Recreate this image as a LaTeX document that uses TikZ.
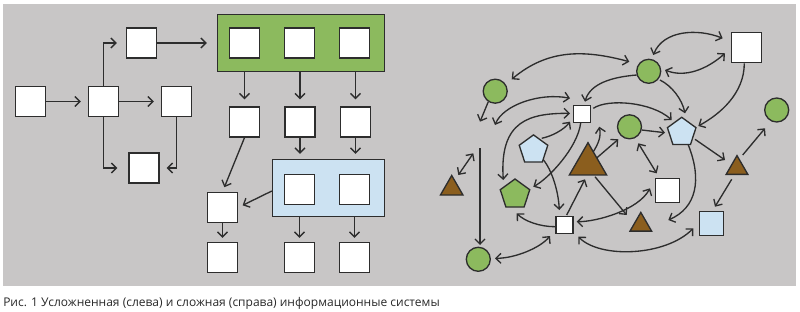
\documentclass[tikz,border=0pt]{standalone}
\usepackage{fontspec}
\setmainfont{Open Sans}
\usetikzlibrary{arrows.meta,shapes.geometric,calc}
\newdimen\pxu \pxu=0.75pt
\definecolor{bgc}{RGB}{200,198,198}
\definecolor{lc}{RGB}{45,45,45}
\definecolor{grn}{RGB}{140,186,94}
\definecolor{blu}{RGB}{204,226,242}
\definecolor{brn}{RGB}{139,94,30}
\definecolor{capc}{RGB}{40,40,40}
\begin{document}
\begin{tikzpicture}[x=0.75pt,y=-0.75pt,
  barb/.tip={Straight Barb[length=3.8pt,width=7.5pt]},
  arr/.style={draw=lc, line width=1pt, -barb},
  darr/.style={draw=lc, line width=1pt, barb-barb},
  box/.style={draw=lc, line width=1pt, fill=white, minimum size=30\pxu, inner sep=0pt},
  grp/.style={draw=lc, line width=1pt, inner sep=0pt},
  circ/.style={circle, draw=lc, line width=1pt, fill=grn, minimum size=24\pxu, inner sep=0pt},
  pent/.style={regular polygon, regular polygon sides=5, draw=lc, line width=1pt, inner sep=0pt},
  tri/.style={regular polygon, regular polygon sides=3, draw=lc, line width=1pt, fill=brn, inner sep=0pt},
  sqr/.style={draw=lc, line width=1pt, inner sep=0pt}]
\useasboundingbox (0,0) rectangle (800,311);
\fill[bgc] (3,4) rectangle (796,286);

% ---------- left diagram ----------
\node[box] (A) at (30.5,101.5) {};
\node[box] (B) at (103.5,101.5) {};
\node[box] (C) at (141.5,43) {};
\node[box] (D) at (176.5,101.5) {};
\node[box] (E) at (144,168) {};
\node[grp, fill=grn, minimum width=167\pxu, minimum height=57\pxu] (GR) at (301,43) {};
\node[box] (Ga) at (244.5,43) {};
\node[box] (Gb) at (299.5,43) {};
\node[box] (Gc) at (354.5,43) {};
\node[box] (Ra) at (244.5,122) {};
\node[box] (Rb) at (300,122) {};
\node[box] (Rc) at (355.5,122) {};
\node[grp, fill=blu, minimum width=112\pxu, minimum height=57\pxu] (BL) at (328.5,188) {};
\node[box] (Ba) at (299.5,189.5) {};
\node[box] (Bb) at (354.5,189.5) {};
\node[box] (F) at (222.5,207.5) {};
\node[box] (La) at (222.5,257.5) {};
\node[box] (Lb) at (299.5,257.5) {};
\node[box] (Lc) at (354.5,257.5) {};

\draw[arr, shorten >=7\pxu] (A) -- (B);
\draw[arr, shorten >=9\pxu] (B.north) |- (C.west);
\draw[arr, shorten >=7\pxu] (B) -- (D);
\draw[arr, shorten >=11\pxu] (B.south) |- (E.west);
\draw[arr, shorten >=7\pxu] (D.south) |- (E.east);
\draw[arr, shorten >=10\pxu] (C) -- (C -| GR.west);
\draw[arr, shorten >=7\pxu] (Ra |- GR.south) -- (Ra);
\draw[arr, shorten >=7\pxu] (Rb |- GR.south) -- (Rb);
\draw[arr, shorten >=7\pxu] (Rc |- GR.south) -- (Rc);
\draw[arr, shorten >=5\pxu] (Rb) -- (Rb |- BL.north);
\draw[arr, shorten >=5\pxu] (Rc) -- (Rc |- BL.north);
\draw[arr, shorten >=5\pxu] (Ra.south) -- (F.north);
\draw[arr, shorten >=5\pxu] ($(BL.west)+(0,3)$) -- (F.east);
\draw[arr, shorten >=4\pxu] (F) -- (La);
\draw[arr, shorten >=4\pxu] (Lb |- BL.south) -- (Lb);
\draw[arr, shorten >=4\pxu] (Lc |- BL.south) -- (Lc);

% ---------- right diagram ----------
\node[circ] (G1) at (495.2,91.2) {};
\node[circ] (G2) at (648.7,71.3) {};
\node[circ] (G3) at (629.5,126.8) {};
\node[circ] (G4) at (776.7,110) {};
\node[circ] (G5) at (478.3,259.3) {};
\node[sqr, fill=white, minimum size=30\pxu] (S1) at (746.5,47.5) {};
\node[sqr, fill=white, minimum size=17\pxu] (S2) at (581.7,113.8) {};
\node[sqr, fill=white, minimum size=24\pxu] (S3) at (667.5,190.3) {};
\node[sqr, fill=white, minimum size=17\pxu] (S4) at (564.5,224.8) {};
\node[sqr, fill=blu, minimum size=24\pxu] (B1) at (711.7,223.3) {};
\node[pent, fill=blu, minimum size=30\pxu] (P1) at (681.7,132.3) {};
\node[pent, fill=blu, minimum size=30\pxu] (P2) at (533.5,149.9) {};
\node[pent, fill=grn, minimum size=31\pxu] (P3) at (515,194.5) {};
\node[tri, minimum size=43\pxu] (T4) at (588,164.2) {};
\node[tri, minimum size=25\pxu] (T1) at (737,168.1) {};
\node[tri, minimum size=25\pxu] (T2) at (640.8,224.9) {};
\node[tri, minimum size=26\pxu] (T3) at (451.7,188.5) {};

\draw[darr] ($(G1)+(16.5,-11.9)$) .. controls +(36,-30.2) and +(-45.4,-12.2) .. ($(G2)+(-19.4,-9.6)$);
\draw[darr] ($(G2)+(4.6,-16.3)$) .. controls +(10,-25) and +(-25,-10) .. ($(S1)+(-23.8,-9.2)$);
\draw[darr] ($(G2)+(16.3,-1.3)$) .. controls +(20,8) and +(-18,16) .. ($(S1)+(-21.5,5.8)$);
\draw[arr] ($(S1)+(-2.2,15.8)$) .. controls +(0,30) and +(22,-12) .. ($(P1)+(16.6,-6.3)$);
\draw[arr] ($(G2)+(-12,3.7)$) .. controls +(-25,2) and +(5,-18) .. ($(S2)+(3.3,-12.1)$);
\draw[arr] ($(G2)+(11.3,8.7)$) .. controls +(12,6) and +(-3,-14) .. ($(P1)+(3.3,-19)$);
\draw[arr] ($(G1)+(-6.9,10.5)$) -- ($(G1)+(-15.2,30.5)$);
\draw[darr] ($(S2)+(-86.7,11.2)$) .. controls +(8,-20) and +(-30,-6) .. ($(S2)+(-11.7,-15.5)$);
\draw[darr] ($(P3)+(-11.7,-14.5)$) .. controls +(-4,-60) and +(-40,0) .. ($(S2)+(-11.7,-0.5)$);
\draw[arr] ($(P2)+(8.2,-11.6)$) .. controls +(10,-2) and +(-6,8) .. ($(S2)+(-11.7,7.9)$);
\draw[arr] ($(S2)+(-1,9)$) .. controls +(-3,25) and +(15,-8) .. ($(P3)+(18.3,-7.8)$);
\draw[arr] ($(S2)+(11.6,-5.5)$) .. controls +(15,-10) and +(-20,-18) .. ($(P1)+(-10,-12.3)$);
\draw[arr] ($(T4)+(5.3,-12.5)$) .. controls +(5,-8) and +(2,10) .. ($(T4)+(11.3,-37.5)$);
\draw[arr] ($(T4)+(9,-6.5)$) -- ($(G3)+(-11.2,12.5)$);
\draw[arr] ($(G3)+(12.2,3.2)$) -- ($(P1)+(-16.7,0.4)$);
\draw[darr] ($(G3)+(8.8,16.5)$) -- ($(S3)+(-10.8,-17)$);
\draw[arr] ($(P1)+(13.3,7)$) -- ($(T1)+(-12,-8.1)$);
\draw[arr] ($(T1)+(5.7,-13.1)$) -- ($(G4)+(-11.7,18.3)$);
\draw[arr] ($(T1)+(-5.3,11.2)$) -- ($(B1)+(3.3,-16.6)$);
\draw[arr] ($(P1)+(6.6,12.7)$) .. controls +(14,35) and +(28,-12) .. ($(T2)+(27.5,-4.9)$);
\draw[arr] ($(T4)+(7,12.5)$) -- ($(T2)+(-14.1,-9.9)$);
\draw[darr] ($(S4)+(12.2,-3.1)$) .. controls +(20,0) and +(-12,22) .. ($(S3)+(-17.5,-2)$);
\draw[darr] ($(S4)+(13.8,11.9)$) .. controls +(22,22) and +(-28,28) .. ($(B1)+(-18.4,5)$);
\draw[arr] ($(S4)+(2.2,-9.8)$) -- ($(T4)+(-3,15.1)$);
\draw[arr] ($(P2)+(10,10)$) .. controls +(8,10) and +(-1,-20) .. ($(S4)+(-5.2,-14.8)$);
\draw[arr] ($(S4)+(-9.5,1.9)$) .. controls +(-15,0) and +(8,8) .. ($(P3)+(1.7,18.8)$);
\draw[darr] ($(G5)+(16.7,-1)$) .. controls +(20,0) and +(-10,12) .. ($(S4)+(-14.5,11.2)$);
\draw[arr] ($(G5)+(1.7,-111)$) -- ($(G5)+(1.7,-14.3)$);
\draw[darr] ($(T3)+(6.6,-13.5)$) -- ($(T3)+(21.6,-35.2)$);

% ---------- caption ----------
\node[anchor=base west, inner sep=0pt, text=capc, font=\fontsize{9}{10}\selectfont] (cap) at (3,306)
  {Рис. 1 Усложненная (слева) и сложная (справа) информационные системы};
\end{tikzpicture}
\end{document}
